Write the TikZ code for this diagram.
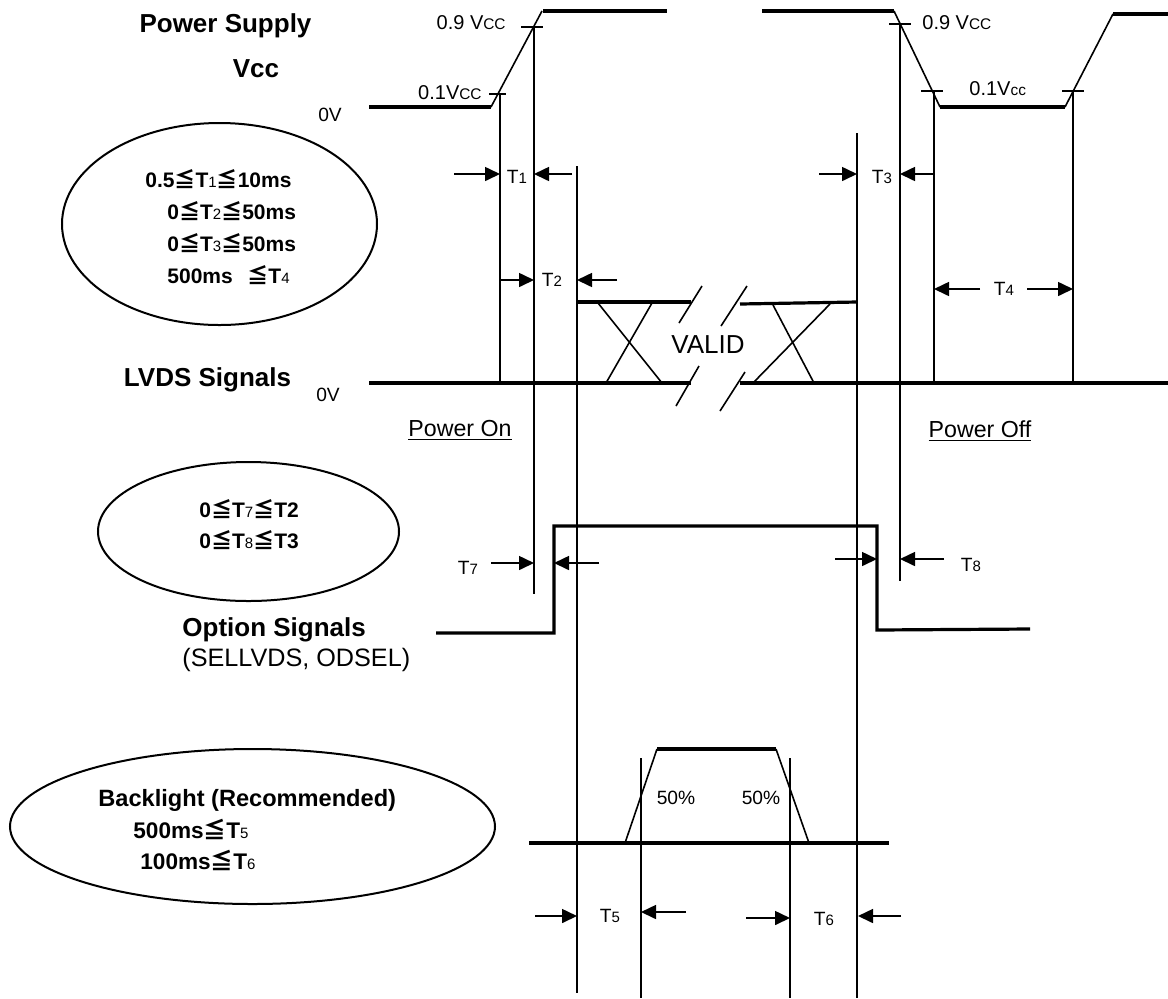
\documentclass[tikz,border=0pt]{standalone}
\usepackage{fontspec}
\setmainfont{Liberation Sans}
\newfontfamily\cjk{Noto Sans CJK SC}
\usetikzlibrary{arrows.meta}
\newcommand{\tsub}[1]{{\fontsize{7.5}{8}\selectfont\mdseries #1}}
\newcommand{\dleq}{{\cjk ≦}}
\newcommand{\vcap}{V{\fontsize{7.7}{8}\selectfont CC}}
\newcommand{\vlow}{V{\fontsize{7.7}{8}\selectfont cc}}
\tikzset{
  sig/.style={line width=1.6pt},
  guide/.style={line width=0.8pt},
  oval/.style={line width=1pt},
  dimarrow/.style={line width=0.8pt,-{Triangle[length=7.5pt,width=7pt]}},
  txt/.style={inner sep=0pt,anchor=base,font=\fontsize{9.6}{11}\selectfont},
  vtxt/.style={inner sep=0pt,anchor=base,font=\fontsize{10}{12}\selectfont},
  head/.style={inner sep=0pt,anchor=base,font=\fontsize{13}{15}\selectfont\bfseries},
  note/.style={inner sep=0pt,anchor=base,font=\fontsize{11.6}{14}\selectfont},
  cond/.style={inner sep=0pt,anchor=base west,font=\fontsize{10.5}{12}\selectfont\bfseries},
}
\begin{document}
\begin{tikzpicture}[x=0.5pt,y=-0.5pt]
\useasboundingbox (0,0) rectangle (1168,998);

\node[head] (ps) at (225.5,32) {Power Supply};
\node[head] (vcc) at (256,77) {Vcc};
\node[txt] (zv1) at (330,121) {0V};
\node[head] (lvds) at (207.5,386) {LVDS Signals};
\node[txt] (zv2) at (328,401) {0V};
\node[head,anchor=base west] (opt) at (182,636) {Option Signals};
\node[note,anchor=base west,font=\fontsize{12.6}{14}\selectfont] (optsub) at (182,666) {(SELLVDS, ODSEL)};

\coordinate (e1) at (219.5,224);
\coordinate (e2) at (248.5,531.5);
\coordinate (e3) at (252.5,826.5);
\draw[oval] (e1) ellipse [x radius=157.5,y radius=101];
\draw[oval] (e2) ellipse [x radius=150.5,y radius=69.5];
\draw[oval] (e3) ellipse [x radius=242.5,y radius=77.5];

\node[cond] (c1) at (145,187) {0.5\dleq T\tsub{1}\dleq 10ms};
\node[cond] (c2) at (167,219) {0\dleq T\tsub{2}\dleq 50ms};
\node[cond] (c3) at (167,251) {0\dleq T\tsub{3}\dleq 50ms};
\node[cond] (c4) at (167,283) {500ms\hspace{0.7em}\dleq T\tsub{4}};
\node[cond] (c7) at (199,517) {0\dleq T\tsub{7}\dleq T2};
\node[cond] (c8) at (199,548) {0\dleq T\tsub{8}\dleq T3};
\node[cond,font=\fontsize{11.8}{13}\selectfont\bfseries] (bl) at (98,806) {Backlight (Recommended)};
\node[cond,font=\fontsize{11.3}{13}\selectfont\bfseries] (c5) at (133,838) {500ms\dleq T\tsub{5}};
\node[cond,font=\fontsize{11.3}{13}\selectfont\bfseries] (c6) at (140,869) {100ms\dleq T\tsub{6}};

\draw[sig] (369,107) -- (491,107);
\draw[guide] (491,107) -- (542,11);
\draw[sig] (543,11) -- (667,11);
\draw[sig] (762,11) -- (894,11);
\draw[guide] (894,11) -- (940,107);
\draw[sig] (940,107) -- (1065,107);
\draw[guide] (1065,107) -- (1113,14);
\draw[sig] (1113,14) -- (1168,14);

\draw[guide] (489,94) -- (506,94);
\draw[guide] (521,27) -- (543,27);
\draw[guide] (889,24) -- (911,24);
\draw[guide] (921,91) -- (943,91);
\draw[guide] (1062,91) -- (1084,91);

\node[vtxt,anchor=base east] (v9a) at (506,29) {0.9 \vcap};
\node[vtxt,anchor=base east] (v1a) at (482,99) {0.1\vcap};
\node[vtxt,anchor=base west] (v9b) at (922,29) {0.9 \vcap};
\node[vtxt,anchor=base west] (v1b) at (969,95) {0.1\vlow};

\draw[guide] (500,94) -- (500,383);
\draw[guide] (534,27) -- (534,594);
\draw[guide] (577,166) -- (577,993);
\draw[guide] (857,133) -- (857,998);
\draw[guide] (900,24) -- (900,581);
\draw[guide] (934,91) -- (934,383);
\draw[guide] (1073,91) -- (1073,383);
\draw[guide] (641,758) -- (641,998);
\draw[guide] (790,758) -- (790,998);

\draw[sig] (369,383) -- (691,383);
\draw[sig] (740,383) -- (1168,383);
\draw[sig] (577,302) -- (691,302);
\draw[sig] (740,304) -- (857,302);
\draw[guide] (598,303) -- (662,383);
\draw[guide] (652,303) -- (606,383);
\draw[guide] (773,305) -- (814,383);
\draw[guide] (830,304) -- (753,383);
\draw[guide] (702,286) -- (679,323);
\draw[guide] (699,366) -- (676,406);
\draw[guide] (747,286) -- (721,326);
\draw[guide] (745,372) -- (720,411);
\node[note,font=\fontsize{13}{15}\selectfont] (valid) at (708,353) {VALID};

\node[note] (pon) at (460,436) {\underline{Power On}};
\node[note] (poff) at (980,437) {\underline{Power Off}};

\draw[sig] (436,633) -- (554,633) -- (554,526) -- (877,526) -- (877,630) -- (1030,629);

\draw[sig] (529,843) -- (889,843);
\draw[guide] (625,843) -- (657,749);
\draw[sig] (657,749) -- (776,749);
\draw[guide] (776,749) -- (809,843);
\node[txt] (p50a) at (676,804) {50\%};
\node[txt] (p50b) at (761,804) {50\%};

\draw[dimarrow] (454,174) -- (500,174);
\draw[dimarrow] (572,174) -- (534,174);
\draw[dimarrow] (500,280) -- (534,280);
\draw[dimarrow] (617,280) -- (577,280);
\draw[dimarrow] (819,174) -- (857,174);
\draw[dimarrow] (934,174) -- (900,174);
\draw[dimarrow] (980,289) -- (934,289);
\draw[dimarrow] (1027,289) -- (1073,289);
\draw[dimarrow] (491,563) -- (534,563);
\draw[dimarrow] (599,563) -- (554,563);
\draw[dimarrow] (835,559) -- (877,559);
\draw[dimarrow] (944,559) -- (900,559);
\draw[dimarrow] (535,916) -- (577,916);
\draw[dimarrow] (686,912) -- (641,912);
\draw[dimarrow] (746,918) -- (790,918);
\draw[dimarrow] (901,916) -- (858,916);

\node[txt] (t1) at (517,183) {T\tsub{1}};
\node[txt] (t2) at (552,286) {T\tsub{2}};
\node[txt] (t3) at (882,183) {T\tsub{3}};
\node[txt] (t4) at (1004,295) {T\tsub{4}};
\node[txt] (t7) at (468,574) {T\tsub{7}};
\node[txt] (t8) at (971,571) {T\tsub{8}};
\node[txt] (t5) at (610,922) {T\tsub{5}};
\node[txt] (t6) at (824,925) {T\tsub{6}};
\end{tikzpicture}
\end{document}
